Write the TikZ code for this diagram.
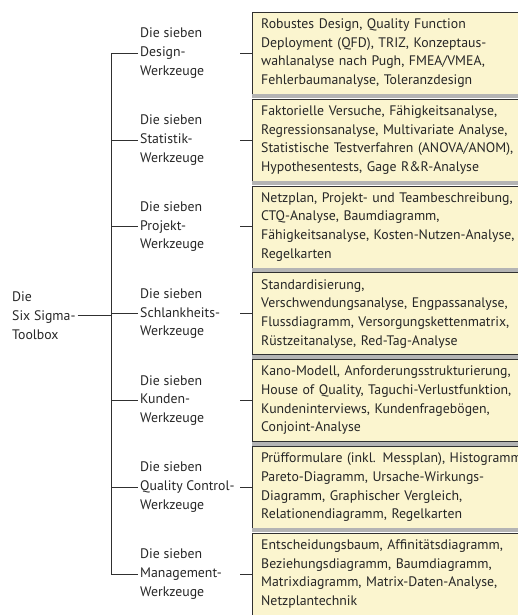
\documentclass[tikz,border=0pt]{standalone}
\usepackage{fontspec}
\setmainfont{PT Sans}
\usepackage{xcolor}
\usepackage{tikz}

\definecolor{boxfill}{HTML}{FBF5CF}
\definecolor{linegray}{HTML}{303030}
\definecolor{inkgray}{HTML}{262626}
\definecolor{bandgray}{HTML}{B4B4B4}

\begin{document}
\begin{tikzpicture}[x=1pt, y=-1pt,
    every node/.style={text=inkgray, font=\fontsize{13.8}{18.7}\selectfont},
    toolbox/.style={rectangle, draw=linegray, fill=boxfill, anchor=north west, minimum height=82pt,
        text width=320pt, inner xsep=9pt, align=left},
    group/.style={anchor=west, align=left, inner sep=2pt},
    branch/.style={draw=linegray, line width=0.8pt}]
    \useasboundingbox (0,0) rectangle (518,615);
    \clip (0,0) rectangle (518,615);

    \coordinate (trunk) at (111,0);
    \coordinate (groupx) at (138,0);

    % tool lists
    \node[toolbox] (box1) at (252, 12.0) {Robustes Design, Quality Function\\Deployment (QFD), TRIZ, Konzeptaus-\\wahlanalyse nach Pugh, FMEA/VMEA,\\Fehlerbaumanalyse, Toleranzdesign};
    \fill[bandgray] (box1.south west) rectangle ++(340,4);
    \node[toolbox] (box2) at (252, 98.8) {Faktorielle Versuche, Fähigkeitsanalyse,\\Regressionsanalyse, Multivariate Analyse,\\Statistische Testverfahren (ANOVA/ANOM),\\Hypothesentests, Gage R\&R-Analyse};
    \fill[bandgray] (box2.south west) rectangle ++(340,4);
    \node[toolbox] (box3) at (252, 185.6) {Netzplan, Projekt- und Teambeschreibung,\\CTQ-Analyse, Baumdiagramm,\\Fähigkeitsanalyse, Kosten-Nutzen-Analyse,\\Regelkarten};
    \fill[bandgray] (box3.south west) rectangle ++(340,4);
    \node[toolbox] (box4) at (252, 272.4) {Standardisierung,\\Verschwendungsanalyse, Engpassanalyse,\\Flussdiagramm, Versorgungskettenmatrix,\\Rüstzeitanalyse, Red-Tag-Analyse};
    \fill[bandgray] (box4.south west) rectangle ++(340,4);
    \node[toolbox] (box5) at (252, 359.2) {Kano-Modell, Anforderungsstrukturierung,\\House of Quality, Taguchi-Verlustfunktion,\\Kundeninterviews, Kundenfragebögen,\\Conjoint-Analyse};
    \fill[bandgray] (box5.south west) rectangle ++(340,4);
    \node[toolbox] (box6) at (252, 446.0) {Prüfformulare (inkl. Messplan), Histogramm,\\Pareto-Diagramm, Ursache-Wirkungs-\\Diagramm, Graphischer Vergleich,\\Relationendiagramm, Regelkarten};
    \fill[bandgray] (box6.south west) rectangle ++(340,4);
    \node[toolbox] (box7) at (252, 532.8) {Entscheidungsbaum, Affinitätsdiagramm,\\Beziehungsdiagramm, Baumdiagramm,\\Matrixdiagramm, Matrix-Daten-Analyse,\\Netzplantechnik};

    % groups of tools
    \node[group] (grp1) at (box1.west -| groupx) {Die sieben\\Design-\\Werkzeuge};
    \node[group] (grp2) at (box2.west -| groupx) {Die sieben\\Statistik-\\Werkzeuge};
    \node[group] (grp3) at (box3.west -| groupx) {Die sieben\\Projekt-\\Werkzeuge};
    \node[group] (grp4) at (box4.west -| groupx) {Die sieben\\Schlankheits-\\Werkzeuge};
    \node[group] (grp5) at (box5.west -| groupx) {Die sieben\\Kunden-\\Werkzeuge};
    \node[group] (grp6) at (box6.west -| groupx) {Die sieben\\Quality Control-\\Werkzeuge};
    \node[group] (grp7) at (box7.west -| groupx) {Die sieben\\Management-\\Werkzeuge};

    \node[group] (root) at (10, 315.5) {Die\\Six Sigma-\\Toolbox};

    % tree
    \draw[branch] (root.east) -- (root.east -| trunk);
    \draw[branch] (grp1.west) -| (trunk |- grp7.west) -- (grp7.west);
    \draw[branch] (trunk |- grp2.west) -- (grp2.west);
    \draw[branch] (trunk |- grp3.west) -- (grp3.west);
    \draw[branch] (trunk |- grp4.west) -- (grp4.west);
    \draw[branch] (trunk |- grp5.west) -- (grp5.west);
    \draw[branch] (trunk |- grp6.west) -- (grp6.west);

    \draw[branch] (box1.west) -- ++(-12,0);
    \draw[branch] (box2.west) -- ++(-12,0);
    \draw[branch] (box3.west) -- ++(-12,0);
    \draw[branch] (box4.west) -- ++(-12,0);
    \draw[branch] (box5.west) -- ++(-12,0);
    \draw[branch] (box6.west) -- ++(-12,0);
    \draw[branch] (box7.west) -- ++(-12,0);
\end{tikzpicture}
\end{document}
